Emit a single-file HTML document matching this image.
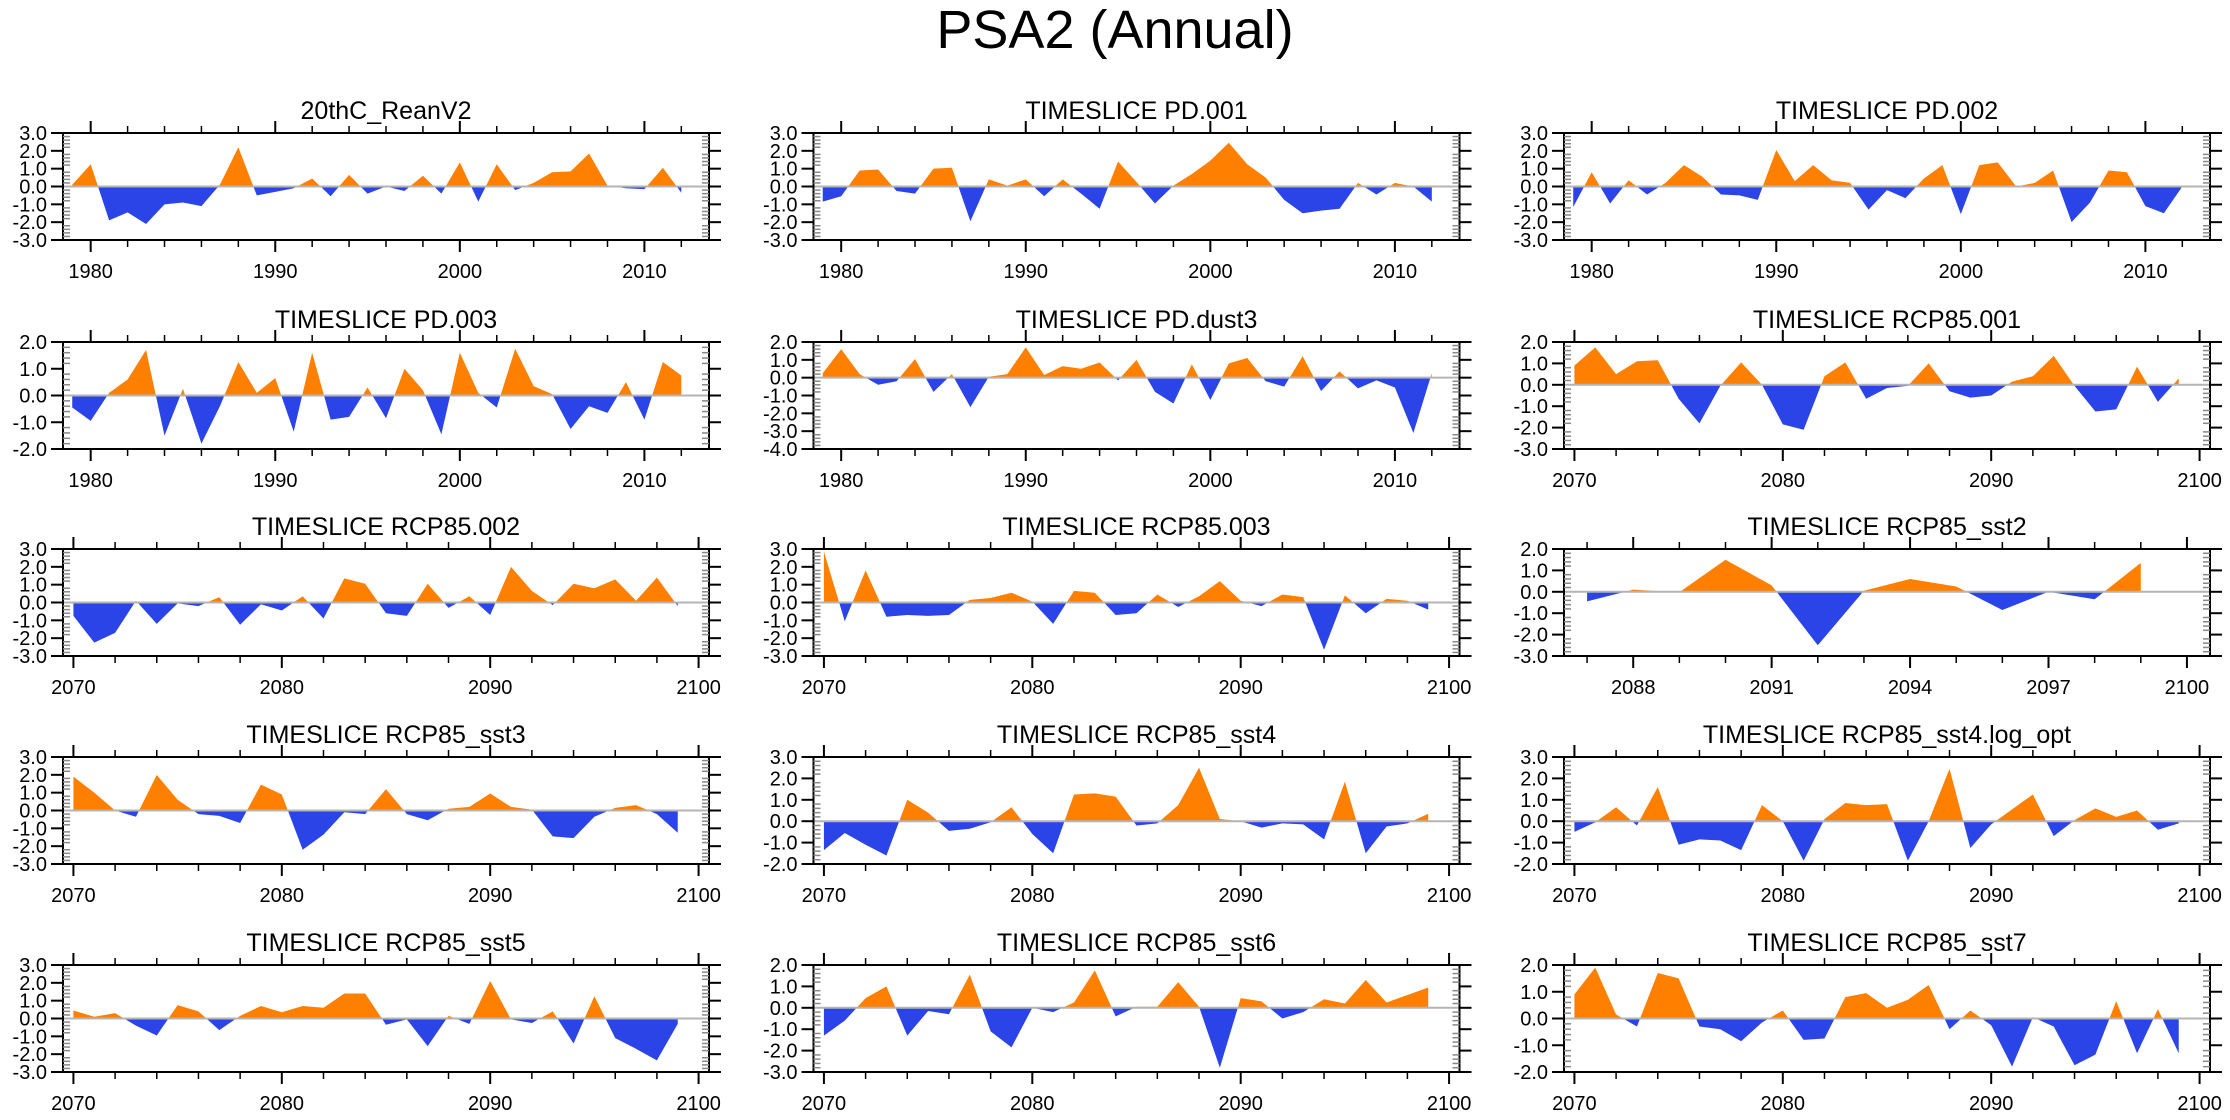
<!DOCTYPE html>
<html>
<head>
<meta charset="utf-8">
<style>
  html,body{margin:0;padding:0;background:#fff;}
  svg{display:block;font-family:"Liberation Sans",Arial,sans-serif;}
</style>
</head>
<body>
<svg id="chart" width="2230" height="1120" viewBox="0 0 2230 1120" xmlns="http://www.w3.org/2000/svg">
  <rect width="2230" height="1120" fill="#fff"/>
  <text x="1115" y="48" text-anchor="middle" font-size="54" fill="#000">PSA2 (Annual)</text>
</svg>
<script>
// ---- panel titles ----
const panelTitles = ["20thC_ReanV2","TIMESLICE PD.001","TIMESLICE PD.002",
  "TIMESLICE PD.003","TIMESLICE PD.dust3","TIMESLICE RCP85.001",
  "TIMESLICE RCP85.002","TIMESLICE RCP85.003","TIMESLICE RCP85_sst2",
  "TIMESLICE RCP85_sst3","TIMESLICE RCP85_sst4","TIMESLICE RCP85_sst4.log_opt",
  "TIMESLICE RCP85_sst5","TIMESLICE RCP85_sst6","TIMESLICE RCP85_sst7"];
// ---- first year of each series ----
const startYears = [1979,1979,1979,1979,1979,2070,2070,2070,2087,2070,2070,2070,2070,2070,2070];
// ---- y-axis ranges ----
const yMins = [-3,-3,-3,-2,-4,-3,-3,-3,-3,-3,-2,-2,-3,-3,-2];
const yMaxs = [3,3,3,2,2,2,3,3,2,3,3,3,3,2,2];
// ---- series values ----
const sReanV2 = [0.1,1.25,-1.9,-1.45,-2.1,-1.0,-0.9,-1.1,0.1,2.2,-0.5,-0.3,-0.1,0.45,-0.55,0.65,-0.4,0.0,-0.25,0.6,-0.4,1.35,-0.85,1.25,-0.2,0.2,0.8,0.85,1.85,0.05,-0.1,-0.15,1.05,-0.35];
const sPD001 = [-0.85,-0.55,0.9,0.95,-0.25,-0.4,1.0,1.05,-1.95,0.4,0.05,0.4,-0.55,0.4,-0.4,-1.25,1.4,0.25,-0.95,0.05,0.7,1.45,2.45,1.25,0.5,-0.75,-1.5,-1.35,-1.25,0.2,-0.45,0.2,0.0,-0.85];
const sPD002 = [-1.15,0.8,-0.95,0.35,-0.45,0.2,1.2,0.55,-0.45,-0.5,-0.75,2.05,0.3,1.2,0.35,0.2,-1.3,-0.2,-0.65,0.45,1.2,-1.55,1.2,1.35,0.0,0.2,0.9,-2.0,-0.9,0.9,0.8,-1.1,-1.5,0.0];
const sPD003 = [-0.45,-0.95,0.1,0.6,1.7,-1.5,0.25,-1.8,-0.4,1.25,0.1,0.65,-1.35,1.6,-0.9,-0.8,0.3,-0.85,1.0,0.2,-1.45,1.6,0.1,-0.45,1.75,0.35,0.05,-1.25,-0.4,-0.65,0.5,-0.9,1.25,0.75];
const sPDdust3 = [0.25,1.6,0.2,-0.4,-0.2,1.05,-0.8,0.2,-1.65,0.05,0.2,1.7,0.15,0.65,0.5,0.85,-0.15,1.0,-0.8,-1.45,0.75,-1.25,0.8,1.1,-0.2,-0.5,1.2,-0.75,0.35,-0.6,-0.15,-0.55,-3.1,0.25];
const sRCP001 = [0.9,1.75,0.5,1.1,1.15,-0.65,-1.8,-0.05,1.05,0.0,-1.85,-2.1,0.4,1.05,-0.65,-0.15,-0.05,1.0,-0.3,-0.6,-0.5,0.15,0.4,1.35,-0.05,-1.25,-1.15,0.85,-0.8,0.3];
const sRCP002 = [-0.75,-2.25,-1.7,0.1,-1.2,-0.05,-0.2,0.3,-1.25,-0.1,-0.45,0.35,-0.9,1.35,1.05,-0.6,-0.75,1.05,-0.3,0.35,-0.7,2.0,0.65,-0.15,1.05,0.8,1.3,0.1,1.4,-0.2];
const sRCP003 = [2.85,-1.05,1.8,-0.8,-0.7,-0.75,-0.7,0.15,0.25,0.55,0.05,-1.2,0.65,0.55,-0.7,-0.6,0.45,-0.25,0.35,1.2,0.1,-0.2,0.45,0.3,-2.65,0.4,-0.6,0.2,0.1,-0.4];
const sSST2 = [-0.45,0.1,-0.02,1.5,0.3,-2.5,0.05,0.6,0.25,-0.85,0.0,-0.35,1.35];
const sSST3 = [1.9,1.0,0.0,-0.35,2.0,0.6,-0.2,-0.3,-0.7,1.45,0.9,-2.2,-1.35,-0.1,-0.2,1.2,-0.2,-0.55,0.1,0.2,0.95,0.2,0.05,-1.45,-1.55,-0.35,0.15,0.3,-0.2,-1.25];
const sSST4 = [-1.35,-0.55,-1.1,-1.6,1.0,0.4,-0.45,-0.35,-0.05,0.65,-0.6,-1.5,1.25,1.3,1.15,-0.2,-0.1,0.75,2.5,0.1,0.0,-0.3,-0.1,-0.15,-0.85,1.85,-1.5,-0.25,-0.1,0.35];
const sSST4log = [-0.5,-0.05,0.65,-0.2,1.6,-1.1,-0.85,-0.9,-1.35,0.75,0.0,-1.85,0.1,0.85,0.75,0.8,-1.85,0.0,2.45,-1.25,-0.15,0.55,1.25,-0.7,0.05,0.6,0.2,0.5,-0.4,-0.1];
const sSST5 = [0.45,0.1,0.3,-0.4,-0.95,0.75,0.4,-0.65,0.15,0.7,0.35,0.7,0.6,1.4,1.4,-0.35,-0.05,-1.55,0.15,-0.3,2.1,-0.05,-0.25,0.4,-1.4,1.25,-1.1,-1.7,-2.35,-0.3];
const sSST6 = [-1.3,-0.6,0.45,1.0,-1.3,-0.15,-0.3,1.55,-1.1,-1.85,0.0,-0.2,0.25,1.75,-0.4,0.05,0.05,1.2,0.05,-2.8,0.45,0.3,-0.5,-0.2,0.4,0.2,1.3,0.25,0.6,0.95];
const sSST7 = [0.9,1.9,0.15,-0.3,1.7,1.5,-0.3,-0.4,-0.85,-0.15,0.3,-0.8,-0.75,0.8,0.95,0.4,0.7,1.25,-0.4,0.3,-0.25,-1.8,0.05,-0.3,-1.75,-1.35,0.65,-1.3,0.35,-1.3];
const allSeries = [sReanV2,sPD001,sPD002,sPD003,sPDdust3,sRCP001,sRCP002,sRCP003,sSST2,sSST3,sSST4,sSST4log,sSST5,sSST6,sSST7];
// ---- x-axis tick labels per axis type ----
const histTicks = [1980,1990,2000,2010];
const futTicks = [2070,2080,2090,2100];
const sst2Ticks = [2088,2091,2094,2097,2100];

const NS = "http://www.w3.org/2000/svg";
const svg = document.getElementById("chart");
const rowTops = [133,342,549,757,965];
const W = 646, H = 107;

function el(tag, attrs, parent){
  const e = document.createElementNS(NS, tag);
  for (const k in attrs) e.setAttribute(k, attrs[k]);
  (parent||svg).appendChild(e);
  return e;
}

for (let i = 0; i < 15; i++) {
  const col = i % 3, row = Math.floor(i / 3);
  const L = 63 + col * 750.5, T = rowTops[row];
  const data = allSeries[i];
  const y0 = startYears[i];
  let xmin, xmax, majors, minors;
  if (y0 === 1979) { xmin = 1978.5; xmax = 2013.5; majors = histTicks; minors = []; for (let y = 1980; y <= 2013; y += 2) minors.push(y); }
  else if (y0 === 2087) { xmin = 2086.5; xmax = 2100.5; majors = sst2Ticks; minors = []; for (let y = 2087; y <= 2100; y++) minors.push(y); }
  else { xmin = 2069.5; xmax = 2100.5; majors = futTicks; minors = []; for (let y = 2070; y <= 2100; y += 2) minors.push(y); }
  const ymin = yMins[i], ymax = yMaxs[i];
  const sx = v => L + (v - xmin) / (xmax - xmin) * W;
  const sy = v => T + (ymax - v) / (ymax - ymin) * H;

  const g = el("g", {});
  
  

  // title
  const t = el("text", {x: L + W/2, y: T - 14, "text-anchor": "middle", "font-size": 25, fill: "#000"}, g);
  t.textContent = panelTitles[i];
  
  

  // clip paths
  const zy = sy(0);
  const defs = el("defs", {}, g);
  const cpA = el("clipPath", {id: "ca" + i}, defs);
  el("rect", {x: L, y: T, width: W, height: Math.max(0, zy - T)}, cpA);
  const cpB = el("clipPath", {id: "cb" + i}, defs);
  el("rect", {x: L, y: zy, width: W, height: Math.max(0, T + H - zy)}, cpB);

  let d = "M" + sx(y0) + "," + zy;
  for (let k = 0; k < data.length; k++) d += " L" + sx(y0 + k).toFixed(2) + "," + sy(data[k]).toFixed(2);
  d += " L" + sx(y0 + data.length - 1) + "," + zy + " Z";
  const pa = el("path", {d: d, fill: "#ff8000", "clip-path": "url(#ca" + i + ")"}, g);
  
  
  const pb = el("path", {d: d, fill: "#2b44e8", "clip-path": "url(#cb" + i + ")"}, g);
  
  

  // zero line
  const zl = el("line", {x1: L, x2: L + W, y1: zy, y2: zy, stroke: "#b4b4b4", "stroke-width": 2}, g);
  
  

  // frame
  const fr = el("rect", {x: L, y: T, width: W, height: H, fill: "none", stroke: "#000", "stroke-width": 2}, g);
  
  
  el("line", {x1: L - 12, x2: L + W + 12, y1: T, y2: T, stroke: "#000", "stroke-width": 2}, g);
  el("line", {x1: L - 12, x2: L + W + 12, y1: T + H, y2: T + H, stroke: "#000", "stroke-width": 2}, g);

  // y ticks
  for (let v = ymin; v <= ymax + 1e-9; v += 1) {
    const yy = sy(v);
    el("line", {x1: L - 12, x2: L, y1: yy, y2: yy, stroke: "#000", "stroke-width": 2}, g);
    el("line", {x1: L + W, x2: L + W + 12, y1: yy, y2: yy, stroke: "#000", "stroke-width": 2}, g);
    const lb = el("text", {x: L - 16, y: yy + 7, "text-anchor": "end", "font-size": 20, fill: "#000"}, g);
    lb.textContent = v.toFixed(1);
    
    
  }
  for (let v = ymin; v <= ymax + 1e-9; v += 0.2) {
    if (Math.abs(v - Math.round(v)) < 1e-6) continue;
    const yy = sy(v);
    el("line", {x1: L, x2: L + 7, y1: yy, y2: yy, stroke: "#888", "stroke-width": 1.5}, g);
    el("line", {x1: L + W - 7, x2: L + W, y1: yy, y2: yy, stroke: "#888", "stroke-width": 1.5}, g);
  }
  // x ticks
  for (const m of minors) {
    if (majors.indexOf(m) >= 0) continue;
    const xx = sx(m);
    el("line", {x1: xx, x2: xx, y1: T - 7, y2: T, stroke: "#000", "stroke-width": 1.5}, g);
    el("line", {x1: xx, x2: xx, y1: T + H, y2: T + H + 7, stroke: "#000", "stroke-width": 1.5}, g);
  }
  for (const m of majors) {
    const xx = sx(m);
    el("line", {x1: xx, x2: xx, y1: T - 12, y2: T, stroke: "#000", "stroke-width": 2}, g);
    el("line", {x1: xx, x2: xx, y1: T + H, y2: T + H + 12, stroke: "#000", "stroke-width": 2}, g);
    const lb = el("text", {x: xx, y: T + H + 38, "text-anchor": "middle", "font-size": 20, fill: "#000"}, g);
    lb.textContent = String(m);
    
    
  }
}
</script>
</body>
</html>
